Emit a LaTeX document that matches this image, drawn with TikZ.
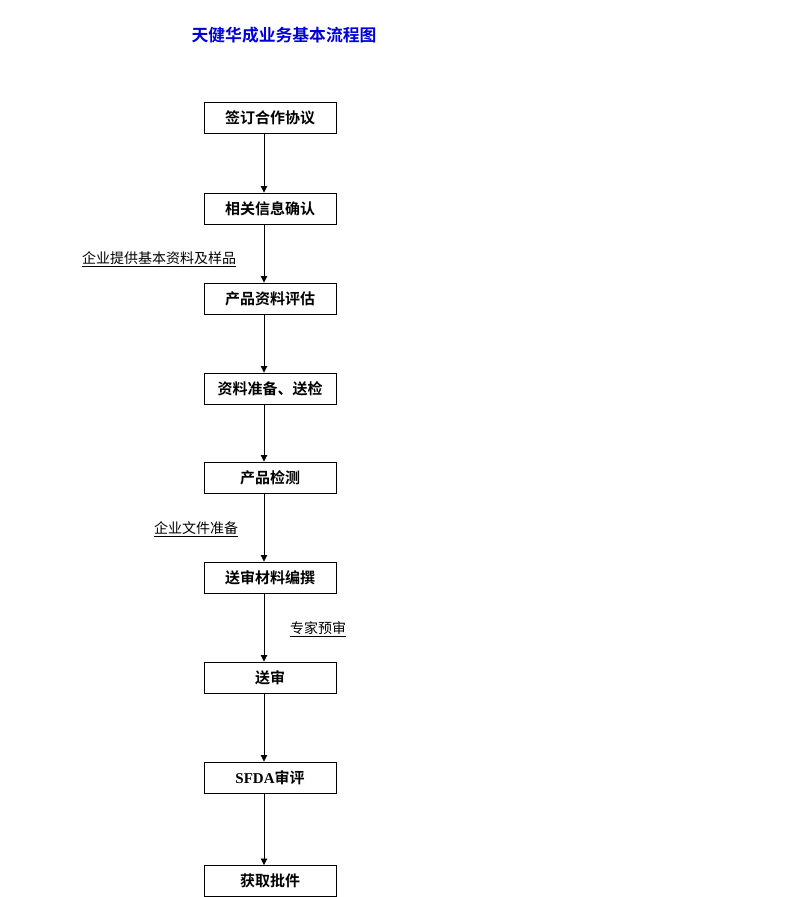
\documentclass[tikz,border=0pt]{standalone}
\usepackage{fontspec}
\newfontfamily\cjk{Noto Sans CJK SC}
\newfontfamily\cjkb{Noto Sans CJK SC Bold}
\newfontfamily\lat{Liberation Serif}
\usetikzlibrary{arrows.meta}
\begin{document}
\begin{tikzpicture}[x=1pt,y=-1pt,
  stepbox/.style={draw=black,line width=0.9pt,minimum width=132pt,minimum height=31pt,inner sep=0pt,
    font=\cjkb\fontsize{15}{17}\selectfont},
  conn/.style={draw=black,line width=0.8pt,-{Triangle[length=6.5pt,width=6.5pt]}},
  lbl/.style={inner sep=0pt,font=\cjk\fontsize{14}{16}\selectfont},
]
\useasboundingbox (0,0) rectangle (800,897);
\node[inner sep=0pt,text=blue!85!black,font=\cjkb\fontsize{16.8}{19}\selectfont] (title) at (284,35) {天健华成业务基本流程图};
\node[stepbox] (b1) at (270,117.5) {签订合作协议};
\node[stepbox] (b2) at (270,208.5) {相关信息确认};
\node[stepbox] (b3) at (270,298.5) {产品资料评估};
\node[stepbox] (b4) at (270,388.5) {资料准备、送检};
\node[stepbox] (b5) at (270,477.5) {产品检测};
\node[stepbox] (b6) at (270,577.5) {送审材料编撰};
\node[stepbox] (b7) at (270,677.5) {送审};
\node[stepbox] (b8) at (270,777.5) {{\lat\bfseries SFDA}审评};
\node[stepbox] (b9) at (270,881) {获取批件};
\foreach \a/\b in {b1/b2,b2/b3,b3/b4,b4/b5,b5/b6,b6/b7,b7/b8,b8/b9}
  \draw[conn] ([xshift=-6pt]\a.south) -- ([xshift=-6pt]\b.north);
\node[lbl,anchor=west] (l1) at (82,259) {\underline{企业提供基本资料及样品}};
\node[lbl,anchor=west] (l2) at (154,529) {\underline{企业文件准备}};
\node[lbl,anchor=west] (l3) at (290,629) {\underline{专家预审}};
\end{tikzpicture}
\end{document}
